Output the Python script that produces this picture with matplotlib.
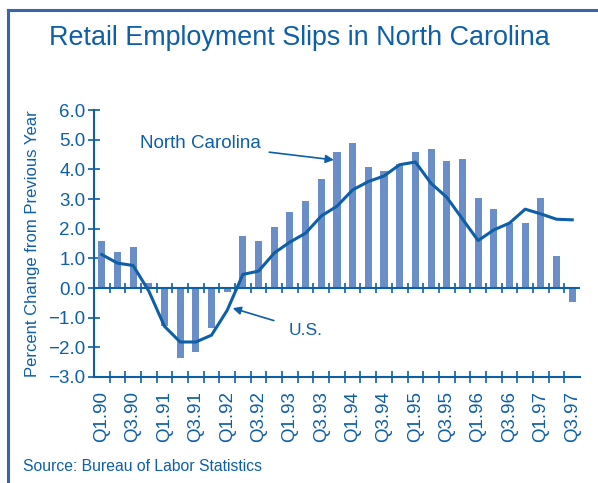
import matplotlib.pyplot as plt
import numpy as np
from matplotlib.lines import Line2D
from matplotlib.ticker import FixedLocator

plt.rcParams['font.family'] = ['Liberation Sans', 'DejaVu Sans']

# quarters Q1.90 .. Q3.97
years = list(range(90, 98))
quarters = [f'Q{q}.{y}' for y in years for q in range(1, 5)][:31]

# North Carolina retail employment, % change from previous year (bars)
nc = [1.57, 1.23, 1.40, 0.17, -1.29, -2.35, -2.15, -1.34, -0.13, 1.74,
      1.60, 2.07, 2.55, 2.95, 3.69, 4.60, 4.90, 4.09, 3.96, 4.18,
      4.60, 4.70, 4.30, 4.36, 3.05, 2.68, 2.20, 2.18, 3.05, 1.08, -0.47]
# U.S. (line)
us = [1.13, 0.84, 0.76, -0.10, -1.29, -1.82, -1.82, -1.59, -0.75, 0.46,
      0.57, 1.18, 1.55, 1.85, 2.43, 2.76, 3.31, 3.59, 3.78, 4.16,
      4.25, 3.53, 3.06, 2.33, 1.60, 1.96, 2.19, 2.66, 2.50, 2.32, 2.30]

blue = '#0e5fa8'
bar_col = '#6a8fc8'

fig = plt.figure(figsize=(5.98, 4.83), dpi=100)
ax = fig.add_axes([0.157, 0.2195, 0.813, 0.5525])

x = np.arange(len(quarters))
ax.bar(x, nc, width=0.45, color=bar_col, zorder=2)
ax.plot(x, us, color=blue, lw=2.2, zorder=3)

ax.set_xlim(-0.5, len(quarters) - 0.5)
ax.set_ylim(-3, 6)
ax.set_yticks(np.arange(-3, 7, 1))
ax.set_yticklabels([f'{v:.1f}'.replace('-', '\u2212') for v in np.arange(-3, 7, 1)])

ax.set_xticks(x[::2])
ax.set_xticklabels(quarters[::2], rotation=90)
ax.xaxis.set_minor_locator(FixedLocator(x[:-1] + 0.5))
ax.tick_params(axis='x', which='major', length=0, pad=10, labelsize=13.5, labelcolor=blue)
ax.tick_params(axis='x', which='minor', direction='inout', length=8, width=1.2, color=blue)
ax.tick_params(axis='y', direction='inout', length=8, width=1.2, color=blue,
               labelsize=13.5, labelcolor=blue, pad=2)

for s in ['top', 'right']:
    ax.spines[s].set_visible(False)
for s in ['left', 'bottom']:
    ax.spines[s].set_color(blue)
    ax.spines[s].set_linewidth(1.5)

# zero line with quarter ticks
ax.axhline(0, color=blue, lw=1.5, zorder=4)
ax.plot(x[:-1] + 0.5, np.zeros(len(x) - 1), ls='none', marker='|', ms=7, mew=1.2,
        color=blue, zorder=4, clip_on=False)

ax.set_ylabel('Percent Change from Previous Year', color=blue, fontsize=12, labelpad=6)

ax.annotate('North Carolina', xy=(14.8, 4.32), xytext=(6.3, 4.86), color=blue,
            fontsize=13.5, ha='center', va='center',
            arrowprops=dict(arrowstyle='-|>', color=blue, lw=1.2, mutation_scale=12,
                            shrinkA=4, shrinkB=0))
ax.annotate('U.S.', xy=(8.35, -0.68), xytext=(13.0, -1.42), color=blue,
            fontsize=12.5, ha='center', va='center',
            arrowprops=dict(arrowstyle='-|>', color=blue, lw=1.2, mutation_scale=12,
                            shrinkA=9, shrinkB=0))

fig.text(0.5, 0.921, 'Retail Employment Slips in North Carolina', color=blue,
         fontsize=19.4, ha='center', va='center')
fig.text(0.038, 0.035, 'Source: Bureau of Labor Statistics', color=blue,
         fontsize=11.3, ha='left', va='center')

# frame lines
fig.add_artist(Line2D([0.014, 0.014], [0, 0.979], color='#3a64b0', lw=2.2))
fig.add_artist(Line2D([0.013, 1.0], [0.979, 0.979], color='#3a64b0', lw=2.2))

fig.savefig('out.png', dpi=100)
